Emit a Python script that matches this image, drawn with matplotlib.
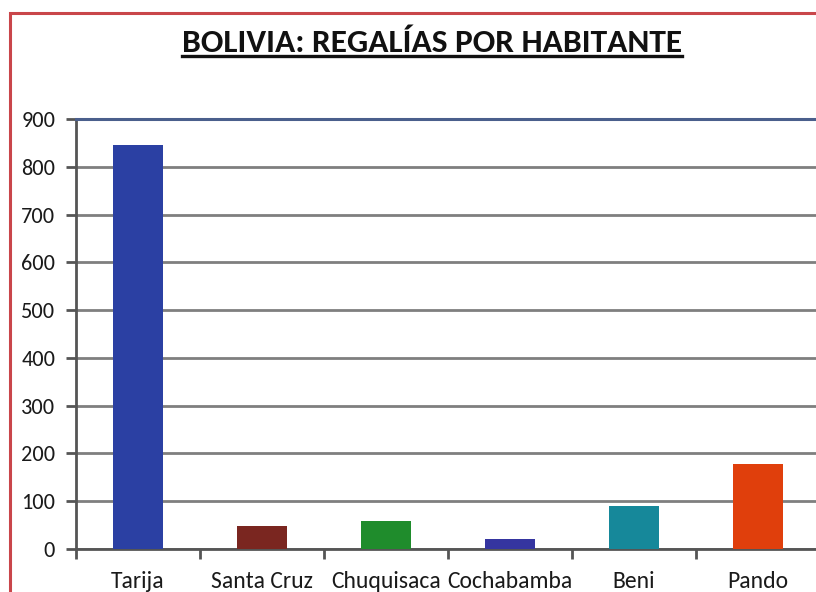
import matplotlib
matplotlib.use("Agg")
import matplotlib.pyplot as plt
from matplotlib.patches import Rectangle
import numpy as np

departamentos = ["Tarija", "Santa Cruz", "Chuquisaca", "Cochabamba", "Beni", "Pando"]
regalias = [845, 48, 58, 20, 90, 178]
colores = ["#2b40a3", "#7a2620", "#1f8c2c", "#3535a0", "#16889a", "#e03f0c"]
y_ticks = [0, 100, 200, 300, 400, 500, 600, 700, 800, 900]

plt.rcParams["font.family"] = ["Carlito", "DejaVu Sans"]

W, H = 816, 592
fig = plt.figure(figsize=(W / 100, H / 100), dpi=100)
fig.patch.set_facecolor("white")

# outer red frame (open to the right and bottom)
fig.add_artist(Rectangle((10 / W, -0.1), 1.1, (H - 13) / H + 0.1,
                         transform=fig.transFigure, fill=False,
                         edgecolor="#c9464a", linewidth=2.2))

# plot area: 124 px per category, 0 at y=549 px and 900 at y=119 px
left, right = 76, 76 + 6 * 124
bottom, top = 549, 119
ax = fig.add_axes([left / W, (H - bottom) / H, (right - left) / W, (bottom - top) / H])

x = np.arange(len(departamentos))
ax.bar(x, regalias, width=0.4, color=colores, zorder=3)

ax.set_xlim(-0.5, len(departamentos) - 0.5)
ax.set_ylim(0, 900)
ax.set_yticks(y_ticks)
ax.set_yticklabels([str(v) for v in y_ticks], fontsize=16, color="#1a1a1a")
ax.yaxis.grid(True, color="#7f7f7f", linewidth=2.0, zorder=0)
ax.tick_params(axis="y", length=7, width=2.0, color="#555555", pad=8)

ax.set_xticks(x)
ax.set_xticklabels(departamentos, fontsize=17, color="#1a1a1a")
ax.set_xticks(np.arange(len(departamentos)) - 0.5, minor=True)
ax.tick_params(axis="x", which="major", length=0, pad=16)
ax.tick_params(axis="x", which="minor", length=7, width=2.0, color="#555555")

for s in ["left", "bottom"]:
    ax.spines[s].set_color("#555555")
    ax.spines[s].set_linewidth(2.0)
ax.spines["top"].set_color("#4a5f8c")
ax.spines["top"].set_linewidth(2.2)
ax.spines["right"].set_visible(False)
ax.set_facecolor("white")

title = fig.text(432 / W, 1 - 43 / H, "BOLIVIA: REGALÍAS POR HABITANTE",
                 ha="center", va="center", fontsize=24, fontweight="bold",
                 color="#111111")
# underline beneath the title
fig.canvas.draw()
bb = title.get_window_extent()
fig.add_artist(plt.Line2D([bb.x0 / W, bb.x1 / W], [(bb.y0 + 1) / H, (bb.y0 + 1) / H],
                          transform=fig.transFigure, color="#111111", linewidth=2.4))

fig.savefig("out.png", dpi=100)
